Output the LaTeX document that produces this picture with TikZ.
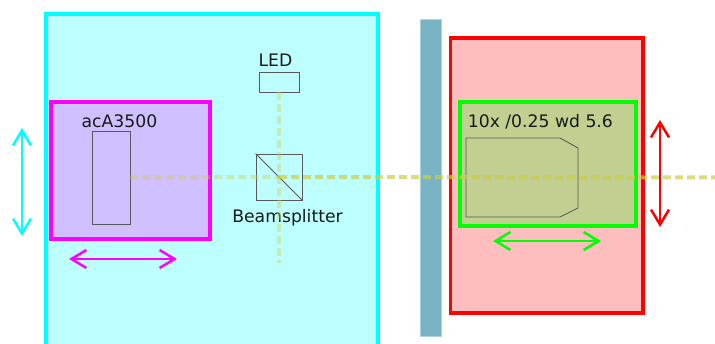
\documentclass[tikz,border=0pt]{standalone}
\usepackage{fontspec}
\setmainfont{DejaVu Sans}
\usepackage{xcolor}
\usetikzlibrary{arrows.meta,shapes,positioning,calc}
\definecolor{stagecyan}{RGB}{0,255,255}
\definecolor{stagefill}{RGB}{189,255,255}
\definecolor{cammagenta}{RGB}{255,0,255}
\definecolor{camfill}{RGB}{208,192,255}
\definecolor{objred}{RGB}{255,0,0}
\definecolor{objfill}{RGB}{255,190,190}
\definecolor{focusgreen}{RGB}{0,255,0}
\definecolor{focusfill}{RGB}{193,207,144}
\definecolor{platefill}{RGB}{120,180,195}
\definecolor{beamcol}{RGB}{205,205,70}
\tikzset{
    plate/.style={draw=#1,line width=0.07cm,minimum width=1cm,inner sep=0pt},
    part/.style={draw=black!65,line width=0.5pt,inner sep=0pt},
    beam/.style={beamcol,line width=0.08cm,dash pattern=on 0.16cm off 0.08cm,opacity=#1},
    travel/.style={draw=#1,line width=0.05cm,{Straight Barb[length=0.3cm,width=0.36cm]}-{Straight Barb[length=0.3cm,width=0.36cm]}},
    lbl/.style={inner sep=0pt,font=\fontsize{9.8}{11}\selectfont,text=black!90}
}
\begin{document}
\begin{tikzpicture}[scale=1]
    \useasboundingbox (0,0) rectangle (14.3,6.88);
    \clip (0,0) rectangle (14.3,6.88);

    % Stage and camera
    \node (stage) [plate=stagecyan,fill=stagefill,minimum width=6.64cm,minimum height=6.8cm] at (4.24,3.2) {};
    \node (cam) [plate=cammagenta,fill=camfill,minimum width=3.18cm,minimum height=2.74cm] at (2.61,3.47) {};
    \node (sensor) [part,minimum width=0.76cm,minimum height=1.86cm] at (2.22,3.33) {};
    \node (acalbl) [lbl] at (2.39,4.46) {acA3500};

    % LED and splitter
    \node (led) [part,minimum width=0.8cm,minimum height=0.4cm] at (5.58,5.24) {};
    \node (ledlbl) [lbl] at (5.51,5.68) {LED};
    \node (split) [part,minimum width=0.92cm,minimum height=0.92cm] at (5.58,3.34) {};
    \draw[part] (split.north west) -- (split.south east);
    \node (splitlbl) [lbl] at (5.75,2.52) {Beamsplitter};

    % Sample plate
    \node (sample) [draw=platefill!60,fill=platefill,line width=0.4pt,minimum width=0.42cm,minimum height=6.34cm,inner sep=0pt] at (8.61,3.33) {};

    % Objective
    \node (obj) [plate=objred,fill=objfill,minimum width=3.85cm,minimum height=5.5cm] at (10.935,3.37) {};
    \node (focus) [plate=focusgreen,fill=focusfill,minimum width=3.52cm,minimum height=2.48cm] at (10.96,3.6) {};
    \node (objlbl) [lbl,anchor=west] at (9.35,4.44) {10x /0.25 wd 5.6};
    \draw[part] (9.32,4.12) -- (11.2,4.12) -- (11.56,3.92) -- (11.56,2.72) -- (11.2,2.54) -- (9.32,2.54) -- cycle;

    % Beams
    \coordinate (farend) at (14.3,3.33);
    \coordinate (ledend) at (5.58,1.62);
    \draw[beam=0.4] (sensor.east) -- (split.center);
    \draw[beam=0.7] (split.center) -- (farend);
    \draw[beam=0.4] (led.south) -- (ledend);

    % Travel arrows
    \coordinate (cyantop) at (0.44,4.32);
    \coordinate (cyanbot) at (0.44,2.16);
    \draw[travel=stagecyan] (cyantop) -- (cyanbot);
    \coordinate (magleft) at (1.38,1.7);
    \coordinate (magright) at (3.54,1.7);
    \draw[travel=cammagenta] (magleft) -- (magright);
    \coordinate (redtop) at (13.2,4.48);
    \coordinate (redbot) at (13.2,2.34);
    \draw[travel=objred] (redtop) -- (redbot);
    \coordinate (greenleft) at (9.86,2.06);
    \coordinate (greenright) at (12.02,2.06);
    \draw[travel=focusgreen] (greenleft) -- (greenright);
\end{tikzpicture}
\end{document}
